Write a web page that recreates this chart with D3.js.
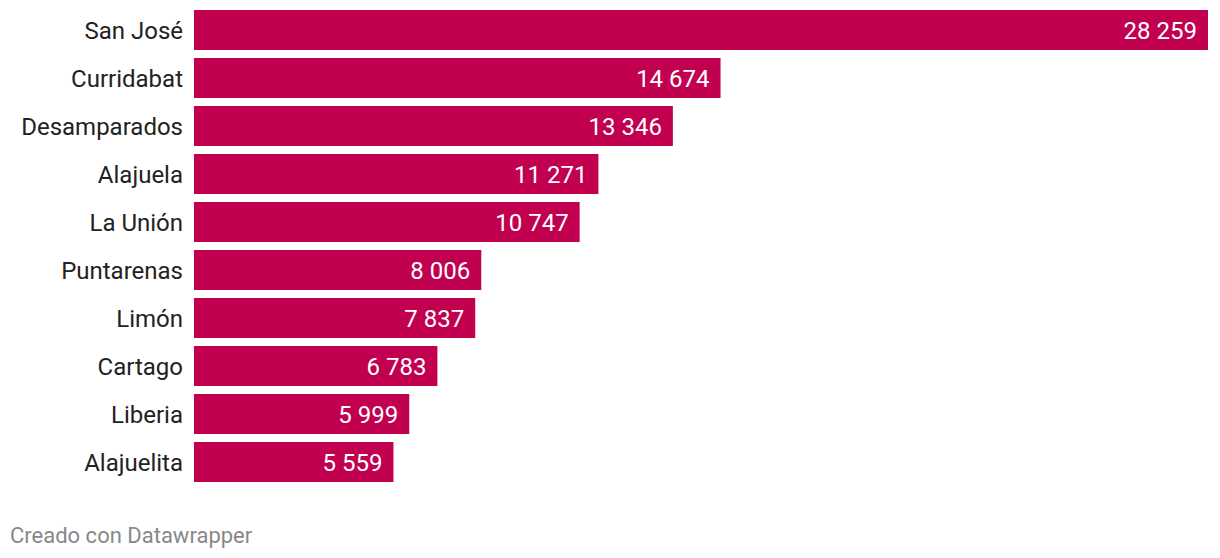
<!DOCTYPE html>
<html>
<head>
<meta charset="utf-8">
<script src="https://cdn.jsdelivr.net/npm/d3@7"></script>
<style>
  body { margin: 0; background: #fff; font-family: Roboto, sans-serif; }
</style>
</head>
<body>
<svg id="chart" width="1220" height="558"></svg>
<script>
var categories = ['San José', 'Curridabat', 'Desamparados', 'Alajuela', 'La Unión',
                  'Puntarenas', 'Limón', 'Cartago', 'Liberia', 'Alajuelita'];
var values = [28259, 14674, 13346, 11271, 10747, 8006, 7837, 6783, 5999, 5559];

var svg = d3.select('#chart'),
    marginLeft = 194, marginRight = 1208, marginTop = 10;

var x = d3.scaleLinear().domain([0, d3.max(values)]).range([marginLeft, marginRight]);
// 48px step, 40px bars
var y = d3.scaleBand().domain(categories).range([marginTop, marginTop + 48 * categories.length - 8])
    .paddingInner(8 / 48).paddingOuter(0).align(0);

var fmt = function(v) { return d3.format(',')(v).replace(/,/g, ' '); };

var rows = svg.selectAll('g.row')
    .data(categories)
    .enter().append('g')
    .attr('class', 'row');

rows.append('rect')
    .attr('x', x(0))
    .attr('y', function(d) { return y(d); })
    .attr('width', function(d, i) { return x(values[i]) - x(0); })
    .attr('height', y.bandwidth())
    .attr('fill', '#c20050');

rows.append('text')
    .attr('x', marginLeft - 11)
    .attr('y', function(d) { return y(d) + y.bandwidth() / 2; })
    .attr('dy', '0.36em')
    .attr('text-anchor', 'end')
    .attr('font-size', 24)
    .attr('fill', '#222')
    .text(function(d) { return d; });

rows.append('text')
    .attr('x', function(d, i) { return x(values[i]) - 11; })
    .attr('y', function(d) { return y(d) + y.bandwidth() / 2; })
    .attr('dy', '0.36em')
    .attr('text-anchor', 'end')
    .attr('font-size', 24)
    .attr('fill', '#fff')
    .text(function(d, i) { return fmt(values[i]); });

svg.append('text')
    .attr('x', 10)
    .attr('y', 543)
    .attr('font-size', 22)
    .attr('fill', '#888')
    .text('Creado con Datawrapper');
</script>
</body>
</html>
